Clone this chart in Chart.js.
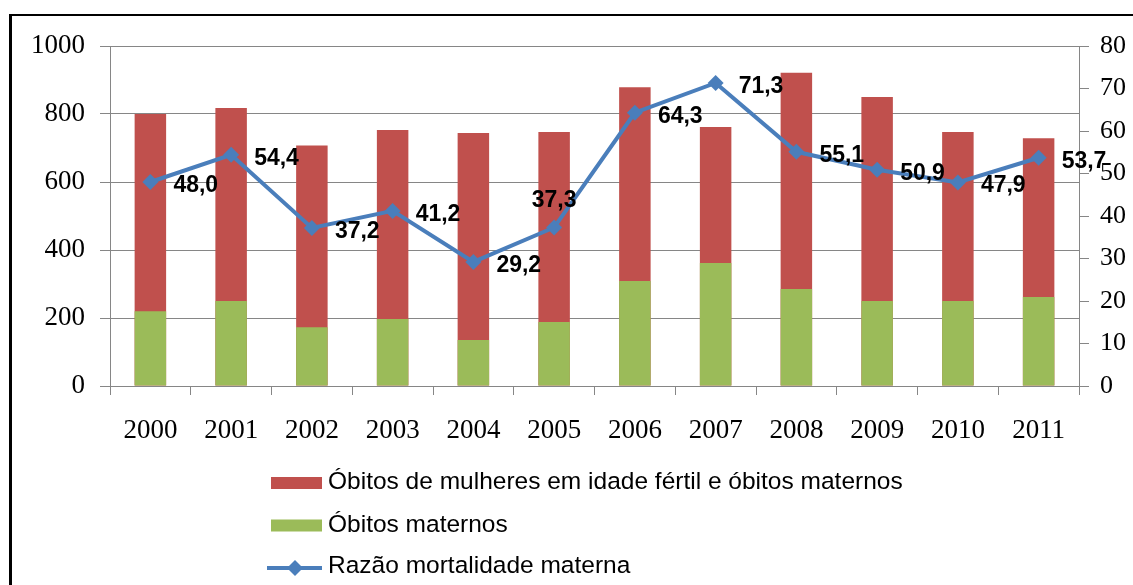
<!DOCTYPE html>
<html>
<head>
<meta charset="utf-8">
<script src="https://cdn.jsdelivr.net/npm/chart.js@4.4.0/dist/chart.umd.min.js"></script>
<style>
html,body{margin:0;padding:0;background:#fff;overflow:hidden;}
#wrap{position:relative;width:1133px;height:585px;overflow:hidden;}
#frame{position:absolute;left:9px;top:14px;width:1300px;height:800px;border-left:3px solid #000;border-top:2px solid #000;pointer-events:none;}
canvas{position:absolute;left:0;top:0;}
</style>
</head>
<body>
<div id="wrap"><canvas id="c" width="1133" height="585"></canvas><div id="frame"></div></div>
<script>
// ---- data ----
const categories = ['2000','2001','2002','2003','2004','2005','2006','2007','2008','2009','2010','2011'];
const totalDeaths = [800, 818, 707, 753, 744, 747, 879, 762, 921, 850, 747, 729];
const maternalDeaths = [220, 250, 173, 197, 135, 188, 309, 362, 285, 250, 250, 262];
const mortalityRatio = [48.0, 54.4, 37.2, 41.2, 29.2, 37.3, 64.3, 71.3, 55.1, 50.9, 47.9, 53.7];
const leftTicks = [0, 200, 400, 600, 800, 1000];
const rightTicks = [0, 10, 20, 30, 40, 50, 60, 70, 80];
const ratioLabelPlacement = ['right','right','right','right','right','above','right','right','right','right','right','right'];
const seriesNames = [
  'Óbitos de mulheres em idade fértil e óbitos maternos',
  'Óbitos maternos',
  'Razão mortalidade materna'
];

const RED = '#C0504D', GREEN = '#9BBB59', BLUE = '#4A7EBB', GRID = '#868686';

const ratioLabels = {
  id: 'ratioLabels',
  afterDatasetsDraw(chart) {
    const ctx = chart.ctx;
    const meta = chart.getDatasetMeta(2);
    ctx.save();
    ctx.font = 'bold 23px "Liberation Sans", Arial, sans-serif';
    ctx.fillStyle = '#000';
    ctx.textBaseline = 'alphabetic';
    meta.data.forEach((pt, i) => {
      const txt = mortalityRatio[i].toFixed(1).replace('.', ',');
      if (ratioLabelPlacement[i] === 'above') {
        ctx.textAlign = 'center';
        ctx.fillText(txt, pt.x, pt.y - 20);
      } else {
        ctx.textAlign = 'left';
        ctx.fillText(txt, pt.x + 23, pt.y + 10);
      }
    });
    ctx.restore();
  }
};

const customLegend = {
  id: 'customLegend',
  afterDraw(chart) {
    const ctx = chart.ctx;
    ctx.save();
    ctx.font = '24.5px "Liberation Sans", Arial, sans-serif';
    ctx.fillStyle = '#000';
    ctx.textAlign = 'left';
    ctx.textBaseline = 'alphabetic';
    chart.data.datasets.forEach((ds, i) => {
      const cy = 483 + i * 42.5;
      if (ds.type === 'line') {
        ctx.strokeStyle = ds.borderColor;
        ctx.lineWidth = 4;
        ctx.beginPath();
        ctx.moveTo(267, cy); ctx.lineTo(322, cy);
        ctx.stroke();
        ctx.fillStyle = ds.backgroundColor;
        ctx.beginPath();
        const r = 8;
        ctx.moveTo(295, cy - r); ctx.lineTo(295 + r, cy); ctx.lineTo(295, cy + r); ctx.lineTo(295 - r, cy);
        ctx.closePath(); ctx.fill();
        ctx.fillStyle = '#000';
        ctx.fillText(ds.label, 328, cy + 5);
      } else {
        ctx.fillStyle = ds.backgroundColor;
        ctx.fillRect(271, cy - 6, 51, 12);
        ctx.fillStyle = '#000';
        ctx.fillText(ds.label, 328, cy + 6);
      }
    });
    ctx.restore();
  }
};

const plainTick = v => String(v);

new Chart(document.getElementById('c'), {
  data: {
    labels: categories,
    datasets: [
      {
        type: 'bar', label: seriesNames[0], data: totalDeaths,
        backgroundColor: RED, yAxisID: 'y', grouped: false, order: 2,
        barPercentage: 0.39, categoryPercentage: 1.0
      },
      {
        type: 'bar', label: seriesNames[1], data: maternalDeaths,
        backgroundColor: GREEN, yAxisID: 'y', grouped: false, order: 1,
        barPercentage: 0.39, categoryPercentage: 1.0
      },
      {
        type: 'line', label: seriesNames[2], data: mortalityRatio,
        borderColor: BLUE, backgroundColor: BLUE, borderWidth: 4,
        pointStyle: 'rectRot', pointRadius: 8, pointBorderWidth: 0,
        tension: 0, yAxisID: 'y1', order: 0
      }
    ]
  },
  options: {
    responsive: false, animation: false, devicePixelRatio: 1,
    layout: { padding: { top: 46, left: 0, right: 0, bottom: 0 } },
    plugins: { legend: { display: false }, tooltip: { enabled: false } },
    scales: {
      x: {
        offset: true,
        grid: { display: true, drawOnChartArea: false, drawTicks: true, tickLength: 9, color: GRID, offset: true },
        border: { color: GRID },
        ticks: { font: { family: '"Liberation Serif", serif', size: 27 }, color: '#000', padding: 20, maxRotation: 0, autoSkip: false },
        afterFit(s) { s.height = 199; }
      },
      y: {
        position: 'left', min: 0, max: 1000,
        afterBuildTicks(s) { s.ticks = leftTicks.map(v => ({ value: v })); },
        ticks: { font: { family: '"Liberation Serif", serif', size: 27 }, color: '#000', padding: 15, callback: plainTick },
        grid: { color: GRID, tickLength: 10 },
        border: { color: GRID },
        afterFit(s) { s.width = 110; }
      },
      y1: {
        position: 'right', min: 0, max: 80,
        afterBuildTicks(s) { s.ticks = rightTicks.map(v => ({ value: v })); },
        ticks: { font: { family: '"Liberation Serif", serif', size: 26 }, color: '#000', padding: 11, callback: plainTick },
        grid: { drawOnChartArea: false, color: GRID, tickLength: 10 },
        border: { color: GRID },
        afterFit(s) { s.width = 54; }
      }
    }
  },
  plugins: [ratioLabels, customLegend]
});
</script>
</body>
</html>
